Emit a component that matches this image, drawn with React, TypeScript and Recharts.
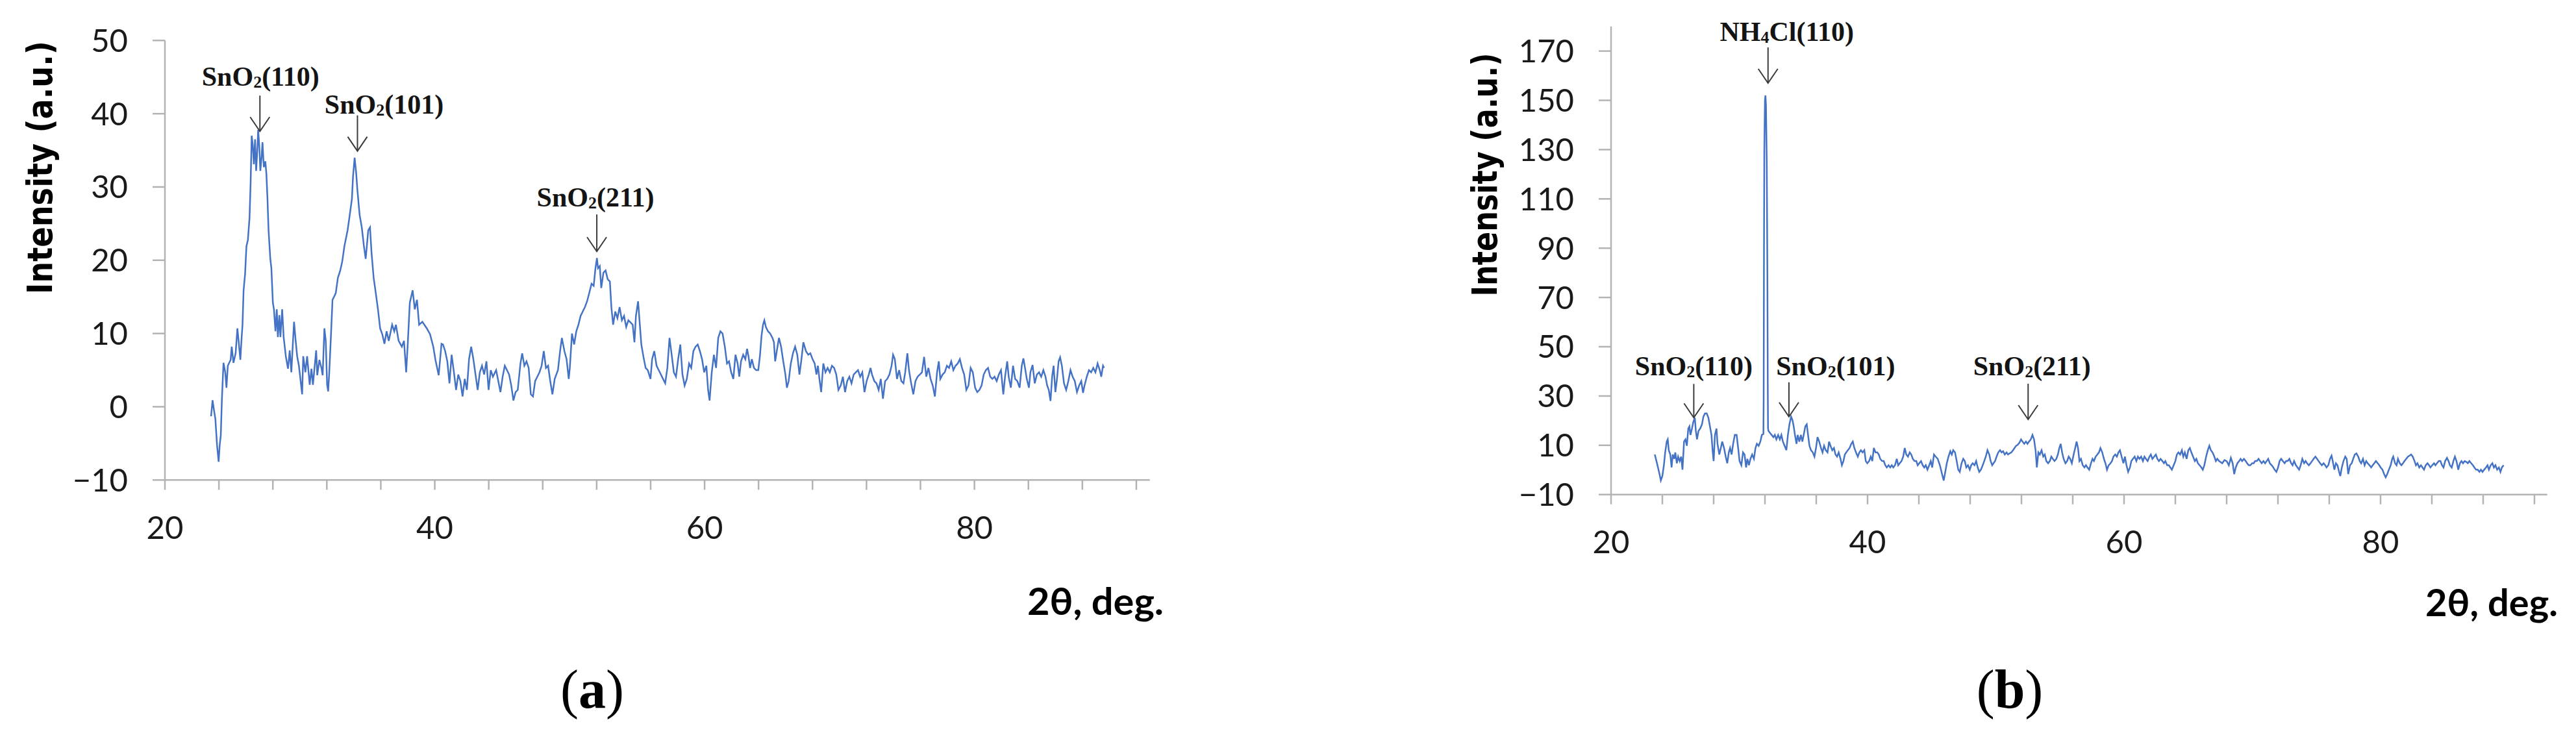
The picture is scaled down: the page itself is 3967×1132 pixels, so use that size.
import { Label, Line, LineChart, ReferenceDot, XAxis, YAxis } from "recharts";

type Pt = [number, number];

// panel (a): 2θ, intensity
const aScanPeaks: Pt[] = [
  [23.42,-1.3],[23.53,0.9],[23.63,-0.4],[23.74,-1.7],[23.86,-5.2],[23.98,-7.5],[24.06,-5.2],[24.14,-3.9],[24.22,0.9],[24.34,6.0],
  [24.47,4.7],[24.56,2.6],[24.66,5.6],[24.87,6.4],[24.95,8.2],[25.08,6.0],[25.24,7.3],[25.37,10.7],[25.46,9.0],[25.59,6.4],
  [25.67,9.0],[25.75,11.2],[25.83,15.9],[25.94,18.1],[26.04,21.9],[26.15,22.8],[26.27,25.8],[26.35,30.5],[26.43,37.0],[26.51,35.7],
  [26.59,33.1],[26.68,36.5],[26.76,32.2],[26.84,34.8],[26.91,37.8],[26.99,35.7],[27.07,32.2],[27.16,34.0],[27.23,36.1],[27.33,32.7],
  [27.44,33.5],[27.52,31.8],[27.6,28.4],[27.68,24.1],[27.81,20.2],[27.89,18.9],[28.0,14.2],[28.08,13.3],[28.19,10.3],[28.29,13.3],
  [28.37,9.5],[28.48,12.5],[28.56,9.5],[28.69,13.3],[28.8,9.5],[28.96,6.9],[29.12,5.2],[29.25,7.7],[29.37,4.7],[29.48,8.6],
  [29.57,11.6],[29.69,9.0],[29.8,6.9],[29.93,5.6],[30.17,1.7],[30.25,6.9],[30.41,4.7],[30.54,6.9],[30.73,3.0],[30.86,5.2],
  [30.97,3.0],[31.21,7.7],[31.29,4.3],[31.45,6.4],[31.61,5.2],[31.69,4.3],[31.82,10.7],[31.92,9.0],[32.02,3.0],[32.1,2.1],
  [32.18,4.7],[32.31,9.9],[32.42,14.6],[32.53,15.0],[32.66,15.5],[32.82,17.6],[32.98,18.5],[33.14,19.8],[33.3,21.9],[33.54,24.1],
  [33.7,26.2],[33.86,28.4],[33.94,31.4],[34.06,34.0],[34.18,31.8],[34.26,29.7],[34.43,26.2],[34.59,24.5],[34.75,21.9],[34.88,20.2],
  [35.07,24.1],[35.2,24.5],[35.31,21.1],[35.47,17.6],[35.63,15.5],[35.79,13.3],[35.95,10.7],[36.11,9.9],[36.27,8.6],[36.43,10.3],
  [36.59,9.0],[36.84,11.2],[37.0,10.3],[37.12,11.2],[37.32,9.0],[37.56,8.2],[37.72,9.0],[37.88,4.7],[38.01,9.0],[38.15,14.2],
  [38.36,15.9],[38.52,13.3],[38.68,14.6],[38.84,11.2],[39.08,11.6],[39.41,10.7],[39.65,9.9],[39.89,8.2],[40.05,6.4],[40.29,4.3],
  [40.5,8.6],
];

const aScanMiddle: Pt[] = [
  [40.61,8.5],[40.77,7.6],[40.93,6.2],[41.09,3.2],[41.25,7.1],[41.42,4.7],[41.58,2.3],[41.74,4.4],[41.9,3.5],[42.06,1.4],
  [42.22,3.8],[42.38,2.3],[42.54,6.5],[42.7,8.2],[42.86,6.5],[43.02,4.4],[43.18,2.3],[43.34,4.7],[43.5,5.6],[43.66,4.4],
  [43.83,6.2],[43.99,2.3],[44.15,5.0],[44.31,4.1],[44.55,5.0],[44.71,3.5],[44.87,2.0],[45.03,4.1],[45.19,5.6],[45.35,5.0],
  [45.51,4.4],[45.67,2.9],[45.83,0.85],[45.99,2.0],[46.15,2.3],[46.35,5.9],[46.48,7.3],[46.64,5.6],[46.8,6.2],[46.96,5.3],
  [47.12,1.7],[47.28,1.4],[47.44,3.5],[47.6,4.1],[47.76,4.7],[47.92,5.6],[48.08,7.6],[48.24,5.3],[48.4,5.6],[48.56,3.5],
  [48.72,1.7],[48.89,3.8],[49.13,5.0],[49.29,7.6],[49.42,9.4],[49.61,7.6],[49.77,6.5],[49.93,3.8],[50.01,5.3],[50.17,10.0],
  [50.33,8.5],[50.49,10.3],[50.65,11.2],[50.81,12.4],[50.97,13.0],[51.13,13.6],[51.29,14.4],[51.46,15.6],[51.62,16.8],[51.78,16.5],
  [51.91,18.9],[52.02,20.3],[52.1,18.9],[52.23,19.2],[52.34,16.2],[52.5,18.3],[52.66,18.6],[52.82,17.4],[52.98,17.1],[53.09,13.6],
  [53.22,11.2],[53.38,13.0],[53.54,12.1],[53.7,13.6],[53.87,11.8],[54.03,12.4],[54.19,10.9],[54.35,11.8],[54.51,11.5],[54.67,11.2],
  [54.8,8.8],[54.91,12.4],[55.07,14.4],[55.2,11.2],[55.31,8.5],[55.47,6.8],[55.63,5.3],[55.79,5.0],[55.99,3.8],[56.11,6.5],
  [56.27,7.6],[56.44,5.6],[56.6,5.0],[56.76,4.4],[56.92,3.8],[57.08,3.2],[57.24,5.3],[57.4,9.4],[57.56,7.1],[57.72,4.7],
  [57.88,4.1],[58.04,6.5],[58.2,8.5],[58.36,4.4],[58.52,2.9],[58.68,3.8],[58.85,5.9],[59.01,5.3],[59.17,7.6],[59.33,8.2],
  [59.49,8.5],[59.65,7.6],[59.81,6.5],[59.97,4.7],[60.13,5.6],[60.26,2.3],[60.37,0.85],[60.53,4.7],[60.69,7.1],[60.85,5.3],
  [61.01,9.4],[61.17,10.3],[61.33,10.0],[61.5,8.2],[61.66,5.9],
];

const aScanTail: Pt[] = [
  [61.81,6.2],[61.97,4.7],[62.13,3.8],[62.29,7.1],[62.45,5.9],[62.57,4.1],[62.7,6.2],[62.86,7.1],[63.02,6.5],[63.15,7.9],
  [63.26,6.8],[63.37,5.3],[63.5,6.5],[63.66,5.3],[63.82,5.0],[63.98,5.0],[64.11,7.1],[64.22,9.7],[64.33,11.2],[64.43,11.8],
  [64.54,10.9],[64.7,10.3],[64.86,10.0],[65.03,9.4],[65.14,8.8],[65.23,6.2],[65.35,7.6],[65.51,9.4],[65.67,8.2],[65.83,6.2],
  [65.99,4.4],[66.1,2.6],[66.23,3.5],[66.39,5.9],[66.55,7.3],[66.71,8.2],[66.87,7.1],[67.03,4.4],[67.16,6.2],[67.32,8.8],
  [67.51,7.6],[67.68,7.1],[67.84,7.3],[68.0,6.5],[68.16,5.9],[68.29,4.4],[68.4,5.6],[68.51,3.8],[68.64,2.0],[68.8,5.9],
  [68.96,4.7],[69.12,5.3],[69.28,4.7],[69.44,5.6],[69.6,5.3],[69.76,4.4],[69.92,2.3],[70.09,2.9],[70.25,4.1],[70.41,2.0],
  [70.57,3.5],[70.73,4.1],[70.89,3.2],[71.05,4.4],[71.21,4.7],[71.37,5.0],[71.53,4.1],[71.69,4.7],[71.85,2.0],[72.01,3.5],
  [72.17,4.4],[72.3,5.3],[72.41,4.4],[72.58,3.5],[72.74,3.2],[72.9,2.3],[73.06,3.8],[73.22,1.1],[73.38,3.5],[73.54,3.8],
  [73.7,4.4],[73.86,5.6],[73.97,7.1],[74.1,6.5],[74.26,3.8],[74.42,5.0],[74.58,3.5],[74.74,3.2],[74.87,4.7],[75.03,7.3],
  [75.15,5.0],[75.31,3.2],[75.47,1.7],[75.63,3.5],[75.79,4.1],[75.95,4.4],[76.11,4.7],[76.27,6.8],[76.43,4.1],[76.59,5.3],
  [76.75,3.8],[76.91,2.9],[77.07,1.4],[77.23,4.7],[77.36,6.2],[77.47,3.8],[77.64,4.4],[77.8,4.7],[77.96,5.6],[78.12,5.3],
  [78.28,6.2],[78.44,5.0],[78.6,5.6],[78.76,5.9],[78.92,6.5],[79.08,5.3],[79.24,4.4],[79.4,2.3],[79.56,2.9],[79.72,5.3],
  [79.88,4.7],[80.05,2.6],[80.21,2.0],[80.37,2.3],[80.53,2.9],[80.69,4.4],[80.85,5.0],[81.01,5.3],[81.17,4.1],[81.33,3.8],
  [81.49,4.1],[81.65,3.5],[81.81,4.4],[81.97,5.0],[82.14,1.7],[82.27,4.1],[82.43,6.2],[82.54,4.1],[82.7,2.6],[82.86,5.6],
  [83.02,3.8],[83.18,3.5],[83.35,2.6],[83.51,5.6],[83.63,6.6],[83.75,5.3],[83.88,3.8],[84.04,2.6],[84.15,4.7],[84.31,5.7],
  [84.47,3.2],[84.63,4.4],[84.79,4.7],[84.95,4.1],[85.11,5.0],[85.27,4.1],[85.39,2.9],[85.51,2.3],[85.64,0.8],[85.76,4.1],
  [85.87,5.6],[86.0,2.0],[86.12,3.8],[86.24,6.2],[86.35,6.75],[86.48,5.6],[86.64,3.2],[86.8,2.3],[86.96,3.5],[87.12,5.0],
  [87.28,4.1],[87.44,3.5],[87.6,2.0],[87.76,2.9],[87.92,3.5],[88.05,1.9],[88.16,2.9],[88.33,4.1],[88.49,5.0],[88.65,4.7],
  [88.81,5.3],[88.97,4.7],[89.13,5.9],[89.29,5.0],[89.4,4.1],[89.53,5.6],[89.61,5.3],
];

// panel (b)
const bScanPeaks: Pt[] = [
  [23.41,6.25],[23.54,3.6],[23.66,1.0],[23.78,-1.7],[23.88,-4.3],[24.0,-2.5],[24.12,1.9],[24.22,7.1],[24.34,11.5],[24.42,12.4],
  [24.5,8.0],[24.62,6.25],[24.72,1.0],[24.81,6.25],[24.93,4.5],[25.01,7.1],[25.13,2.7],[25.23,5.4],[25.35,3.6],[25.47,5.4],
  [25.57,0.1],[25.69,11.5],[25.8,12.4],[25.91,9.8],[26.02,16.8],[26.11,17.7],[26.19,14.2],[26.31,16.8],[26.41,19.4],[26.53,21.2],
  [26.61,15.9],[26.7,12.4],[26.82,15.9],[26.95,16.8],[27.09,18.5],[27.2,21.6],[27.32,22.9],[27.46,22.9],[27.59,21.2],[27.71,17.7],
  [27.83,14.2],[27.93,7.1],[28.0,3.6],[28.1,14.2],[28.22,16.8],[28.3,10.6],[28.44,6.25],[28.56,8.9],[28.67,11.5],[28.81,8.9],
  [28.94,5.4],[29.06,2.7],[29.18,7.1],[29.28,8.9],[29.4,6.25],[29.52,10.6],[29.65,14.2],[29.79,14.2],[29.91,8.9],[30.02,3.6],
  [30.16,1.9],[30.29,7.1],[30.41,6.25],[30.53,1.0],[30.63,4.5],[30.75,1.9],[30.87,4.5],[31.0,6.25],[31.14,4.5],[31.26,8.9],
  [31.37,10.6],[31.51,9.8],[31.64,11.5],[31.76,14.2],[31.88,14.6],
  [31.9,30],[31.92,80],[31.95,130],[32.0,150],[32.04,152],[32.08,148],[32.14,125],[32.19,80],[32.22,35],[32.24,17],
  [32.27,15.9],[32.39,15.0],[32.52,14.2],[32.66,13.3],[32.77,14.2],[32.89,12.4],[33.03,14.2],[33.16,12.4],[33.28,14.2],[33.4,11.5],
  [33.53,9.8],[33.67,8.0],[33.79,14.2],[33.91,18.5],[34.04,21.6],[34.14,20.3],[34.24,17.7],[34.34,14.2],[34.46,10.6],[34.55,14.2],
  [34.68,11.5],[34.8,14.2],[34.92,11.5],[35.05,15.0],[35.15,17.7],[35.26,18.5],[35.36,14.2],[35.47,9.8],[35.59,8.0],[35.73,7.1],
  [35.86,5.4],[35.98,8.9],[36.1,13.3],[36.23,11.5],[36.37,8.9],[36.49,7.1],[36.61,9.8],[36.74,8.0],[36.88,7.1],[37.0,11.5],
  [37.11,9.8],[37.25,8.0],[37.38,8.9],[37.5,6.25],[37.62,5.4],[37.75,7.1],[37.89,4.5],[38.0,1.9],[38.12,3.6],[38.23,6.25],
  [38.34,7.1],[38.46,8.0],[38.6,8.9],[38.73,10.6],[38.85,11.5],[38.97,8.9],[39.1,7.1],[39.24,5.4],[39.36,7.1],[39.48,8.0],
  [39.61,7.1],[39.75,8.0],[39.86,3.6],[39.98,2.7],[40.12,3.6],[40.25,5.4],[40.37,3.6],[40.49,8.9],[40.62,7.1],[40.76,7.1],
  [40.88,6.25],[40.99,4.5],[41.13,3.6],[41.26,3.6],[41.38,1.9],[41.5,1.0],[41.64,1.9],[41.77,1.0],[41.89,1.9],[42.01,1.0],
  [42.14,1.9],[42.28,4.5],[42.39,1.9],[42.51,2.7],[42.65,3.6],[42.78,5.4],[42.9,8.9],[43.02,6.25],[43.15,5.4],[43.29,7.1],
  [43.41,6.25],[43.53,4.5],[43.66,3.6],[43.8,3.6],[43.91,1.9],[44.03,2.7],[44.17,3.6],[44.3,1.9],[44.42,1.0],[44.54,1.9],
  [44.67,0.1],[44.81,1.9],[44.93,3.6],[45.04,1.0],[45.18,6.25],[45.31,5.4],
];

const bScanMiddle: Pt[] = [
  [45.47,4.5],[45.64,1.9],[45.81,-1.7],[45.94,-4.3],[46.06,-0.8],[46.18,2.7],[46.31,5.4],[46.45,7.6],[46.57,6.25],[46.68,8.0],
  [46.82,7.1],[46.95,3.6],[47.07,0.1],[47.19,-0.8],[47.33,2.7],[47.46,4.5],[47.58,3.6],[47.7,1.0],[47.83,1.9],[47.97,0.1],
  [48.08,1.9],[48.2,2.7],[48.34,1.9],[48.47,3.6],[48.59,1.0],[48.71,-0.8],[48.84,0.1],[48.98,1.9],[49.1,3.6],[49.22,5.4],
  [49.35,8.0],[49.49,6.25],[49.6,3.6],[49.72,1.9],[49.82,2.7],[49.94,3.6],[50.06,5.4],[50.19,7.1],[50.33,8.0],[50.45,7.1],
  [50.57,7.6],[50.7,6.25],[50.84,7.1],[50.95,6.25],[51.07,6.7],[51.21,7.1],[51.34,8.0],[51.46,8.9],[51.58,9.8],[51.71,10.2],
  [51.85,11.1],[51.97,12.4],[52.08,11.5],[52.22,10.6],[52.35,11.5],[52.47,10.6],[52.59,11.5],[52.73,12.4],[52.86,14.2],[52.98,12.4],
  [53.1,8.0],[53.2,1.0],[53.32,7.1],[53.43,6.25],[53.57,8.0],[53.7,5.4],[53.82,6.25],[53.94,3.6],[54.08,2.7],[54.21,3.6],
  [54.33,5.4],[54.45,4.5],[54.58,3.6],[54.72,4.5],[54.84,6.25],[54.95,8.9],[55.06,10.6],[55.17,7.1],[55.29,4.5],[55.43,2.7],
  [55.56,3.6],[55.68,5.4],[55.8,4.5],[55.93,2.7],[56.07,6.25],[56.19,8.9],[56.3,11.5],[56.41,8.9],[56.52,3.6],[56.64,4.5],
  [56.78,1.9],[56.91,1.0],[57.03,1.9],[57.15,1.0],[57.28,0.1],[57.42,2.7],[57.54,4.5],[57.65,3.6],[57.79,5.4],[57.92,6.25],
  [58.04,7.1],[58.16,8.9],[58.3,7.1],[58.43,4.5],[58.55,2.7],[58.67,0.1],[58.8,1.9],[58.94,2.7],[59.06,3.6],[59.17,5.4],
  [59.31,6.25],[59.44,5.4],[59.56,7.1],[59.68,8.0],[59.81,5.4],[59.95,2.7],[60.07,5.4],[60.19,1.9],[60.32,-0.8],[60.46,1.0],
  [60.57,3.6],[60.69,4.5],[60.83,5.4],[60.96,3.6],[61.08,5.4],[61.2,4.5],[61.33,5.4],[61.47,3.6],[61.59,5.4],[61.71,4.5],
  [61.84,3.6],[61.98,5.4],[62.09,6.25],[62.21,4.5],[62.35,5.4],[62.48,6.25],[62.6,4.5],[62.72,3.6],[62.85,4.5],[62.99,3.6],
  [63.11,2.7],[63.22,3.6],[63.36,1.9],[63.49,1.9],[63.61,1.0],[63.73,0.1],[63.87,1.9],[64.0,3.6],[64.12,6.25],[64.24,7.1],
  [64.37,6.25],[64.51,8.0],[64.62,5.4],[64.74,7.1],[64.88,4.5],[65.01,8.0],[65.13,8.9],[65.25,7.1],[65.38,5.4],[65.52,3.6],
  [65.64,4.5],[65.76,2.7],[65.89,1.9],[66.03,1.0],[66.14,0.1],[66.26,1.9],[66.4,5.4],[66.53,8.0],[66.65,9.8],[66.77,8.0],
  [66.9,7.1],[67.04,5.4],[67.16,3.6],[67.27,4.5],[67.41,3.6],
];

const bScanTail: Pt[] = [
  [67.66,2.7],[67.83,4.0],[68.0,3.6],[68.17,1.9],[68.33,4.9],[68.47,2.7],[68.59,-1.7],[68.71,1.0],[68.84,2.7],[68.98,3.6],
  [69.09,4.5],[69.21,3.6],[69.35,4.5],[69.48,3.6],[69.6,2.7],[69.72,1.9],[69.85,1.9],[69.99,2.7],[70.11,2.7],[70.22,3.6],
  [70.36,3.6],[70.49,4.5],[70.61,3.6],[70.73,2.7],[70.87,3.6],[71.0,2.7],[71.12,3.6],[71.24,4.5],[71.37,2.7],[71.51,1.9],
  [71.64,1.0],[71.74,0.1],[71.88,-0.8],[72.01,1.0],[72.13,3.6],[72.25,4.5],[72.38,3.6],[72.52,2.7],[72.64,3.6],[72.76,3.6],
  [72.89,4.5],[73.03,2.7],[73.14,1.9],[73.26,3.6],[73.4,1.9],[73.53,1.0],[73.65,0.1],[73.77,1.9],[73.9,4.5],[74.04,2.7],
  [74.16,3.6],[74.27,2.7],[74.41,1.9],[74.54,2.7],[74.66,3.6],[74.78,4.5],[74.92,5.4],[75.05,4.5],[75.17,3.6],[75.29,2.7],
  [75.42,1.9],[75.56,2.7],[75.68,1.9],[75.79,1.0],[75.93,1.9],[76.06,4.5],[76.18,5.8],[76.27,3.6],[76.4,0.1],[76.52,2.7],
  [76.64,1.9],[76.77,-0.8],[76.86,-2.5],[76.98,1.0],[77.11,3.6],[77.25,5.4],[77.36,4.5],[77.48,-1.7],[77.62,1.9],[77.75,2.7],
  [77.87,4.5],[77.99,6.25],[78.12,6.7],[78.26,5.4],[78.38,3.6],[78.49,2.7],[78.63,4.5],[78.76,1.9],[78.88,3.6],[79.0,2.7],
  [79.14,1.9],[79.27,1.0],[79.39,1.9],[79.51,2.7],[79.64,3.6],[79.78,2.7],[79.9,1.9],[80.01,1.0],[80.15,0.1],[80.28,-1.7],
  [80.4,-3.0],[80.52,-1.7],[80.65,0.1],[80.79,1.9],[80.91,4.5],[80.99,5.4],[81.13,2.7],[81.25,1.9],[81.36,4.5],[81.5,2.7],
  [81.63,1.9],[81.75,2.7],[81.87,3.6],[82.0,4.5],[82.14,5.4],[82.26,5.8],[82.38,6.25],[82.51,5.4],[82.65,3.6],[82.76,1.9],
  [82.88,2.7],[83.02,1.0],[83.15,1.9],[83.27,1.0],[83.39,0.1],[83.52,1.9],[83.66,2.7],[83.78,1.9],[83.89,1.0],[84.03,1.9],
  [84.17,2.7],[84.28,1.9],[84.4,2.7],[84.54,3.6],[84.67,3.6],[84.79,1.9],[84.91,1.0],[85.04,3.6],[85.18,4.9],[85.3,3.6],
  [85.41,1.9],[85.55,1.0],[85.68,3.6],[85.8,5.4],[85.92,3.6],[86.06,0.1],[86.19,2.7],[86.31,3.6],[86.43,2.7],[86.56,3.6],
  [86.7,3.2],[86.81,2.7],[86.93,3.6],[87.07,2.7],[87.2,1.9],[87.32,1.0],[87.44,0.1],[87.57,0.1],[87.71,-0.8],[87.83,0.1],
  [87.95,-0.8],[88.08,0.1],[88.22,1.0],[88.34,1.9],[88.45,0.1],[88.59,1.9],[88.72,2.7],[88.84,1.0],[88.96,1.9],[89.09,0.1],
  [89.23,1.0],[89.35,-0.8],[89.46,1.0],[89.6,1.9],
];

const thetaTicks = [20, 24, 28, 32, 36, 40, 44, 48, 52, 56, 60, 64, 68, 72, 76, 80, 84, 88, 92];
const thetaLabelled = [20, 40, 60, 80];
const aIntensityTicks = [-10, 0, 10, 20, 30, 40, 50];
const bIntensityTicks = [-10, 10, 30, 50, 70, 90, 110, 130, 150, 170];

type Callout = {
  theta: number;
  intensity: number;
  head: string;
  sub: string;
  tail: string;
  dx: number;
  rise: number;
  stem: number;
};

const aCallouts: Callout[] = [
  { theta: 27.04, intensity: 37.6, head: "SnO", sub: "2", tail: "(110)", dx: 1, rise: 70, stem: 55 },
  { theta: 34.27, intensity: 34.9, head: "SnO", sub: "2", tail: "(101)", dx: 41, rise: 58, stem: 55 },
  { theta: 52.01, intensity: 21.2, head: "SnO", sub: "2", tail: "(211)", dx: -2, rise: 69, stem: 57 },
];

const bCallouts: Callout[] = [
  { theta: 32.24, intensity: 157.0, head: "NH", sub: "4", tail: "Cl(110)", dx: 29, rise: 65, stem: 55 },
  { theta: 26.45, intensity: 21.2, head: "SnO", sub: "2", tail: "(110)", dx: 0, rise: 65, stem: 52 },
  { theta: 33.87, intensity: 21.6, head: "SnO", sub: "2", tail: "(101)", dx: 72, rise: 64, stem: 53 },
  { theta: 52.52, intensity: 20.5, head: "SnO", sub: "2", tail: "(211)", dx: 6, rise: 68, stem: 55 },
];

const toRows = (pts: Pt[]) => pts.map(([theta, intensity]) => ({ theta, intensity }));
const aData = toRows([...aScanPeaks, ...aScanMiddle, ...aScanTail]);
const bData = toRows([...bScanPeaks, ...bScanMiddle, ...bScanTail]);

const AXIS = "#b3b3b3";
const BLUE = "#4472c4";
const tickFont = { fontFamily: "Lato, 'Open Sans', sans-serif", fontSize: 49, fill: "#1a1a1a" };

const fmtIntensity = (v: number) => (v < 0 ? `\u2212${Math.abs(v)}` : `${v}`);
const fmtTheta = (v: number) => (thetaLabelled.includes(v) ? `${v}` : "");

function calloutShape(c: Callout) {
  return (props: any) => {
    const { cx, cy } = props;
    return (
      <g>
        <line x1={cx} y1={cy - c.stem} x2={cx} y2={cy} stroke="#3a3a3a" strokeWidth={2} />
        <polyline
          points={`${cx - 15},${cy - 22} ${cx},${cy} ${cx + 15},${cy - 22}`}
          fill="none"
          stroke="#3a3a3a"
          strokeWidth={2}
        />
        <text
          x={cx + c.dx}
          y={cy - c.rise}
          textAnchor="middle"
          fontFamily="'Liberation Serif', serif"
          fontWeight="bold"
          fontSize={42}
          fill="#141414"
        >
          {c.head}
          <tspan fontSize={26} dy={3}>
            {c.sub}
          </tspan>
          <tspan dy={-3}>{c.tail}</tspan>
        </text>
      </g>
    );
  };
}

function yTitle(x: number, y: number, len: number) {
  return () => (
    <text
      x={x}
      y={y}
      transform={`rotate(-90, ${x}, ${y})`}
      textAnchor="middle"
      fontFamily="'DejaVu Sans', sans-serif"
      fontWeight="bold"
      fontSize={53}
      textLength={len}
      lengthAdjust="spacingAndGlyphs"
      fill="#000"
    >
      Intensity (a.u.)
    </text>
  );
}

function xTitle(x: number, y: number, len: number, capX: number, letter: string) {
  return () => (
    <g>
      <text
        x={x}
        y={y}
        fontFamily="Lato, 'Open Sans', sans-serif"
        fontWeight="bold"
        fontSize={57}
        textLength={len}
        lengthAdjust="spacingAndGlyphs"
        fill="#000"
      >
        2θ, deg.
      </text>
      <text x={capX} y={1090} textAnchor="middle" fontFamily="'Liberation Serif', serif" fontSize={84} fill="#000">
        (<tspan fontWeight="bold">{letter}</tspan>)
      </text>
    </g>
  );
}

type PanelProps = {
  data: { theta: number; intensity: number }[];
  width: number;
  margin: { top: number; right: number; bottom: number; left: number };
  yDomain: [number, number];
  yTicks: number[];
  callouts: Callout[];
  yLabel: () => JSX.Element;
  xLabel: () => JSX.Element;
};

function XrdPanel({ data, width, margin, yDomain, yTicks, callouts, yLabel, xLabel }: PanelProps) {
  return (
    <LineChart width={width} height={1132} data={data} margin={margin}>
      <XAxis
        type="number"
        dataKey="theta"
        domain={[20, 93]}
        ticks={thetaTicks}
        interval={0}
        tickFormatter={fmtTheta}
        height={100}
        tickSize={15}
        tickMargin={41}
        axisLine={{ stroke: AXIS, strokeWidth: 2.5 }}
        tickLine={{ stroke: AXIS, strokeWidth: 2.5 }}
        tick={tickFont}
      >
        <Label content={xLabel} />
      </XAxis>
      <YAxis
        type="number"
        domain={yDomain}
        ticks={yTicks}
        interval={0}
        tickFormatter={fmtIntensity}
        width={160}
        tickSize={19}
        tickMargin={38}
        axisLine={{ stroke: AXIS, strokeWidth: 2.5 }}
        tickLine={{ stroke: AXIS, strokeWidth: 2.5 }}
        tick={tickFont}
      >
        <Label content={yLabel} />
      </YAxis>
      <Line
        type="linear"
        dataKey="intensity"
        stroke={BLUE}
        strokeWidth={2.5}
        dot={false}
        activeDot={false}
        isAnimationActive={false}
      />
      {callouts.map((c) => (
        <ReferenceDot
          key={c.head + c.tail + c.theta}
          x={c.theta}
          y={c.intensity}
          r={0}
          shape={calloutShape(c)}
        />
      ))}
    </LineChart>
  );
}

export default function App() {
  return (
    <div style={{ position: "absolute", left: 0, top: 0, width: 3967, height: 1132, background: "#fff" }}>
      <div style={{ position: "absolute", left: 0, top: 0 }}>
        <XrdPanel
          data={aData}
          width={1990}
          margin={{ top: 62.3, right: 219.3, bottom: 292.7, left: 94 }}
          yDomain={[-10, 50]}
          yTicks={aIntensityTicks}
          callouts={aCallouts}
          yLabel={yTitle(80, 258, 390)}
          xLabel={xTitle(1582, 947, 210, 912, "a")}
        />
      </div>
      <div style={{ position: "absolute", left: 1990, top: 0 }}>
        <XrdPanel
          data={bData}
          width={1977}
          margin={{ top: 40.7, right: 44.25, bottom: 270.3, left: 331 }}
          yDomain={[-10, 180]}
          yTicks={bIntensityTicks}
          callouts={bCallouts}
          yLabel={yTitle(315, 269, 375)}
          xLabel={xTitle(1745, 949, 204, 1105, "b")}
        />
      </div>
    </div>
  );
}
